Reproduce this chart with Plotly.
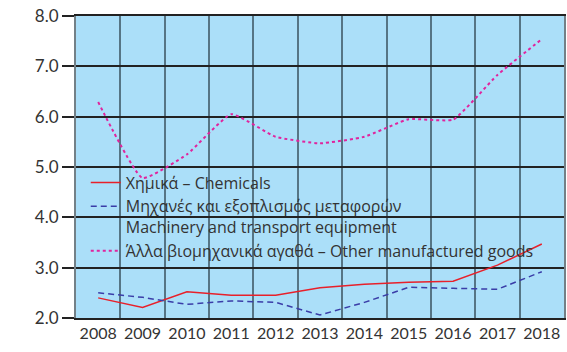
import plotly.graph_objects as go

years = [2008, 2009, 2010, 2011, 2012, 2013, 2014, 2015, 2016, 2017, 2018]
chemicals = [2.40, 2.21, 2.52, 2.45, 2.45, 2.60, 2.67, 2.71, 2.73, 3.05, 3.47]
machinery = [2.50, 2.41, 2.27, 2.34, 2.31, 2.06, 2.31, 2.61, 2.59, 2.57, 2.92]
other_goods = [6.29, 4.78, 5.25, 6.05, 5.60, 5.47, 5.60, 5.95, 5.94, 6.83, 7.54]

names = [
    "Χημικά – Chemicals",
    "Μηχανές και εξοπλισμός μεταφορών<br>Machinery and transport equipment",
    "Άλλα βιομηχανικά αγαθά – Other manufactured goods",
]

FONT = "Lato"
TEXT = "#333333"

fig = go.Figure()
fig.add_trace(go.Scatter(
    x=years, y=chemicals, name=names[0], mode="lines",
    line=dict(color="#E8202A", width=1.5),
))
fig.add_trace(go.Scatter(
    x=years, y=machinery, name=names[1], mode="lines",
    line=dict(color="#3A3DA8", width=1.5, dash="6px,4px"),
))
fig.add_trace(go.Scatter(
    x=years, y=other_goods, name=names[2], mode="lines",
    line=dict(color="#E0249E", width=2, dash="dot", shape="spline", smoothing=0.4),
))

# category boundaries between years
bounds = [y - 0.5 for y in years] + [years[-1] + 0.5]

fig.update_layout(
    width=567, height=352,
    margin=dict(l=76, r=1, t=16, b=34),
    paper_bgcolor="white",
    plot_bgcolor="#ABDFF9",
    font=dict(family=FONT, color=TEXT, size=16),
    showlegend=True,
    legend=dict(
        x=0.02, y=0.505, xanchor="left", yanchor="top",
        bgcolor="rgba(0,0,0,0)",
        font=dict(family="Open Sans", size=16, color=TEXT),
        valign="top", tracegroupgap=0, itemwidth=30,
    ),
    xaxis=dict(
        range=[bounds[0], bounds[-1]],
        tickvals=years, ticktext=[str(y) for y in years],
        showgrid=False, ticks="", zeroline=False,
        showline=True, linecolor="#222222", linewidth=1.5, mirror=True,
        tickfont=dict(size=16, color=TEXT),
        minor=dict(tickvals=bounds, showgrid=True,
                   gridcolor="rgba(40,60,70,0.65)", gridwidth=2),
    ),
    yaxis=dict(
        range=[2, 8], dtick=1, tickformat=".1f",
        showgrid=True, gridcolor="#222222", gridwidth=1.5,
        ticks="outside", ticklen=12, tickcolor="#222222", tickwidth=1.5,
        zeroline=False,
        showline=True, linecolor="rgba(40,60,70,0.65)", linewidth=2, mirror=True,
        tickfont=dict(size=17, color=TEXT),
    ),
)

fig.write_html("out.html")
